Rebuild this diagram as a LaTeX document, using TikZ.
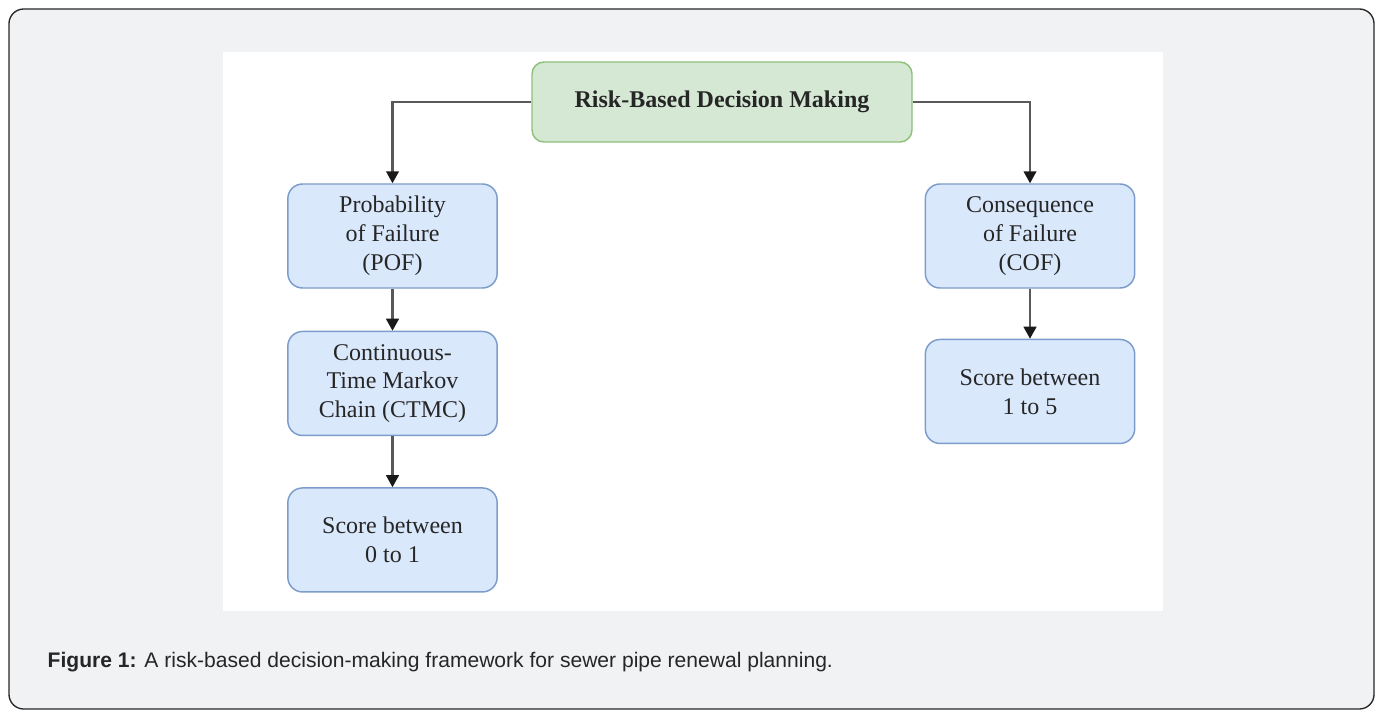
\documentclass[tikz,border=0pt]{standalone}
\usepackage{fontspec}
\setmainfont{Liberation Serif}
\newfontfamily\capfont{Liberation Sans}
\usepackage{tikz}
\usetikzlibrary{arrows.meta,positioning}

\definecolor{pagegray}{HTML}{F1F2F4}
\definecolor{boxblue}{HTML}{DAE8FC}
\definecolor{edgeblue}{HTML}{7C9CCB}
\definecolor{boxgreen}{HTML}{D5E8D4}
\definecolor{edgegreen}{HTML}{8FC07A}
\definecolor{linegray}{HTML}{595959}

\begin{document}
\begin{tikzpicture}[
    x=0.75pt, y=-0.75pt,
    node distance=31.5pt,
    block/.style={rectangle, rounded corners=11pt, draw=edgeblue, fill=boxblue, line width=1.1pt, minimum width=157pt, minimum height=78pt, inner sep=2pt, align=center, text=black!85, font=\fontsize{18}{21.6}\selectfont},
    head/.style={block, draw=edgegreen, fill=boxgreen, rounded corners=9pt, minimum width=285pt, minimum height=60pt, font=\fontsize{18}{21.6}\selectfont\bfseries},
    arrow/.style={-{Triangle[length=9pt,width=9.5pt,color=black!90]}, draw=linegray, line width=1.6pt}
]
    \useasboundingbox (0,0) rectangle (1380,711);

    % Frame and figure area
    \draw[fill=pagegray, draw=black!85, line width=1pt, rounded corners=11pt] (9,9) rectangle (1374,709);
    \fill[white] (223,52) rectangle (1163,611);

    % Boxes
    \node[head] (risk) at (722,102) {Risk-Based Decision Making};
    \node[block] (pof) at (392.5,236) {Probability\\of Failure\\(POF)};
    \node[block, below=31.5pt of pof] (ctmc) {Continuous-\\Time Markov\\Chain (CTMC)};
    \node[block, below=38.25pt of ctmc] (pscore) {Score between\\0 to 1};
    \node[block] (cof) at (1030,236) {Consequence\\of Failure\\(COF)};
    \node[block, below=37.5pt of cof] (cscore) {Score between\\1 to 5};

    % Connectors
    \draw[arrow] (risk.west) -| (pof.north);
    \draw[arrow] (risk.east) -| (cof.north);
    \draw[arrow] (pof) -- (ctmc);
    \draw[arrow] (ctmc) -- (pscore);
    \draw[arrow] (cof) -- (cscore);

    % Caption
    \node[anchor=base west, text=black!85, font=\capfont\fontsize{15.8}{19}\selectfont] (caption) at (43,667)
        {\textbf{Figure 1:} A risk-based decision-making framework for sewer pipe renewal planning.};
\end{tikzpicture}
\end{document}
